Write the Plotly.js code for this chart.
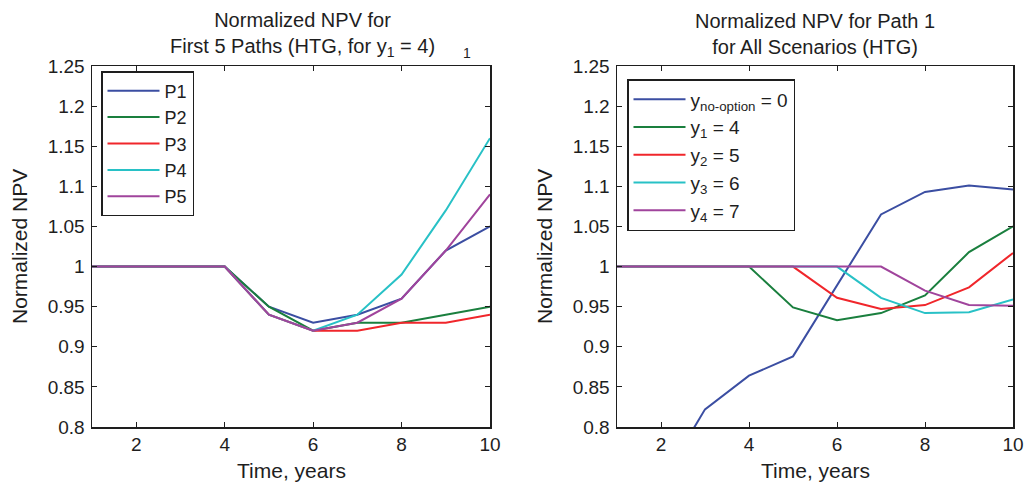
<!DOCTYPE html>
<html><head><meta charset="utf-8">
<script src="https://cdn.plot.ly/plotly-3.0.1.min.js"></script>
<style>html,body{margin:0;padding:0;background:#fff}#chart{width:1034px;height:489px}</style>
</head><body><div id="chart"></div>
<script>
const years = [1,2,3,4,5,6,7,8,9,10];
// Left: first 5 paths (y1 = 4)
const pathNames = ['P1','P2','P3','P4','P5'];
const P1 = [1,1,1,1,0.95,0.93,0.94,0.96,1.02,1.05];
const P2 = [1,1,1,1,0.95,0.92,0.93,0.93,0.94,0.95];
const P3 = [1,1,1,1,0.94,0.92,0.92,0.93,0.93,0.94];
const P4 = [1,1,1,1,0.94,0.92,0.94,0.99,1.07,1.16];
const P5 = [1,1,1,1,0.94,0.92,0.93,0.96,1.02,1.09];
// Right: path 1, all scenarios
const scenNames = ['y<sub>no-option</sub> = 0','y<sub>1</sub> = 4','y<sub>2</sub> = 5','y<sub>3</sub> = 6','y<sub>4</sub> = 7'];
const yNoOption = [0.65,0.73,0.822,0.864,0.888,0.977,1.065,1.093,1.101,1.096];
const y1 = [1,1,1,1,0.949,0.933,0.942,0.964,1.018,1.050];
const y2 = [1,1,1,1,1,0.961,0.947,0.952,0.974,1.017];
const y3 = [1,1,1,1,1,1,0.961,0.942,0.943,0.959];
const y4 = [1,1,1,1,1,1,1,0.970,0.952,0.951];
const xTicks = [2,4,6,8,10];
const yTickVals = [0.8,0.85,0.9,0.95,1,1.05,1.1,1.15,1.2,1.25];
const yTickText = ['0.8','0.85','0.9','0.95','1','1.05','1.1','1.15','1.2','1.25'];
const leftTitle = 'Normalized NPV for<br>First 5 Paths (HTG, for y<sub>1</sub> = 4)';
const rightTitle = 'Normalized NPV for Path 1<br>for All Scenarios (HTG)';
const xTitle = 'Time, years';
const yTitle = 'Normalized NPV';
const colors = ['#3b4ea2','#1a7f3e','#f0262b','#28c1c6','#a0449c'];

const W = 1034, H = 489;
const px = v => v / W, py = v => 1 - v / H;
const FONT = 'Liberation Sans, Arial, Helvetica, sans-serif';
const INK = '#1e1e1e';

const leftSeries = [P1,P2,P3,P4,P5];
const rightSeries = [yNoOption,y1,y2,y3,y4];
const traces = [];
leftSeries.forEach((s,i)=>traces.push({x:years,y:s,name:pathNames[i],type:'scatter',mode:'lines',
  line:{color:colors[i],width:2},xaxis:'x',yaxis:'y',legend:'legend'}));
rightSeries.forEach((s,i)=>traces.push({x:years,y:s,name:scenNames[i],type:'scatter',mode:'lines',
  line:{color:colors[i],width:2},xaxis:'x2',yaxis:'y2',legend:'legend2'}));

const axBase = {showgrid:false,zeroline:false,showline:true,linecolor:INK,linewidth:1.5,mirror:'ticks',
  ticks:'inside',ticklen:5,tickcolor:INK,tickfont:{family:FONT,size:19,color:INK},automargin:false};
const xax = (dom, anchor) => Object.assign({}, axBase, {domain:dom,anchor:anchor,range:[1,10],tickvals:xTicks,
  ticktext:xTicks.map(String)});
const yax = (dom, anchor) => Object.assign({}, axBase, {domain:dom,anchor:anchor,range:[0.8,1.25],tickvals:yTickVals,
  ticktext:yTickText,ticklabelstandoff:2});
const yDom = [py(427), py(66)];

const titleFont = {family:FONT,size:20,color:INK};
const axTitleFont = {family:FONT,size:21,color:INK};
const ann = (text,x,y,font,extra) => Object.assign({text:text,x:px(x),y:py(y),xref:'paper',yref:'paper',
  xanchor:'center',yanchor:'middle',showarrow:false,font:font},extra||{});
const layout = {
  width:W,height:H,margin:{l:0,r:0,t:0,b:0},paper_bgcolor:'#fff',plot_bgcolor:'#fff',
  xaxis:xax([px(92),px(490)],'y'),
  yaxis:yax(yDom,'x'),
  xaxis2:xax([px(617),px(1013)],'y2'),
  yaxis2:yax(yDom,'x2'),
  legend:{x:px(101),y:py(71),xanchor:'left',yanchor:'top',bgcolor:'#fff',bordercolor:INK,borderwidth:1.5,
    itemwidth:52,font:{family:FONT,size:18,color:INK}},
  legend2:{x:px(627),y:py(79),xanchor:'left',yanchor:'top',bgcolor:'#fff',bordercolor:INK,borderwidth:1.5,
    itemwidth:52,font:{family:FONT,size:19,color:INK}},
  showlegend:true,
  annotations:[
    ann(leftTitle,302,34,titleFont),
    ann('1',467,53,{family:FONT,size:14,color:INK}),
    ann(rightTitle,815,34,titleFont),
    ann(xTitle,291,470,axTitleFont),
    ann(xTitle,815,470,axTitleFont),
    ann(yTitle,19,247,axTitleFont,{textangle:-90}),
    ann(yTitle,544,247,axTitleFont,{textangle:-90})
  ]
};
Plotly.newPlot('chart',traces,layout,{displayModeBar:false,staticPlot:true});
</script></body></html>
